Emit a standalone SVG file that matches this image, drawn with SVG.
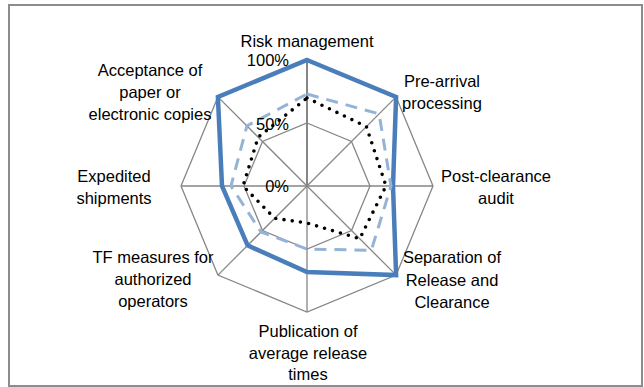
<svg xmlns="http://www.w3.org/2000/svg" width="644" height="387" viewBox="0 0 644 387">
  <style>
    .frame { fill: #ffffff; stroke: #8c8c8c; stroke-width: 2; }
    .grid { fill: none; stroke: #868686; stroke-width: 1.3; stroke-linejoin: miter; }
    .vaxis { stroke: #868686; stroke-width: 2; }
    .s1 { fill: none; stroke: #4a7ebb; stroke-width: 4.5; stroke-linejoin: miter; }
    .s2 { fill: none; stroke: #95b3d7; stroke-width: 3; stroke-dasharray: 12 8; stroke-linejoin: round; }
    .s3 { fill: none; stroke: #000000; stroke-width: 3.6; stroke-dasharray: 0 8.3; stroke-linecap: round; stroke-linejoin: round; }
    text { font-family: "Liberation Sans", Arial, sans-serif; font-size: 16.5px; fill: #000000; }
    .lbl { text-anchor: middle; }
    .tick { text-anchor: end; }
  </style>
  <rect class="frame" x="9" y="5" width="633" height="381"/>

  <g id="grid">
    <polygon class="grid" points="307,60 396.1,96.9 433,186 396.1,275.1 307,312 217.9,275.1 181,186 217.9,96.9"/>
    <polygon class="grid" points="307,123 351.5,141.5 370,186 351.5,230.5 307,249 262.5,230.5 244,186 262.5,141.5"/>
    <line class="grid" x1="307" y1="186" x2="396.1" y2="96.9"/>
    <line class="grid" x1="181" y1="186" x2="433" y2="186"/>
    <line class="grid" x1="307" y1="186" x2="396.1" y2="275.1"/>
    <line class="grid" x1="307" y1="186" x2="307" y2="312"/>
    <line class="grid" x1="307" y1="186" x2="217.9" y2="275.1"/>
    <line class="grid" x1="307" y1="186" x2="217.9" y2="96.9"/>
    <line class="vaxis" x1="307" y1="60" x2="307" y2="186"/>
  </g>

  <g id="connectors">
    <polygon id="series-solid" class="s1" points="307,60 396.1,96.9 393,186 396.1,275.1 307,272 247.6,245.4 222,186 217.9,96.9"/>
    <polygon id="series-dashed" class="s2" points="307,94 379.1,113.9 391,186 371.3,250.3 307,249 261,232 231,186 246.9,125.9"/>
    <polygon id="series-dotted" class="s3" points="307,98 366.4,126.6 386,186 359.7,238.7 307,223 274.7,218.3 243,186 258.2,137.2"/>
  </g>

  <g id="scale">
    <text class="tick" x="289" y="66">100%</text>
    <text class="tick" x="289" y="130">50%</text>
    <text class="tick" x="289" y="192">0%</text>
  </g>

  <g id="risk-management">
    <text class="lbl" x="307" y="47">Risk management</text>
  </g>
  <g id="pre-arrival">
    <text class="lbl" x="442" y="87">Pre-arrival</text>
    <text class="lbl" x="442" y="109">processing</text>
  </g>
  <g id="post-clearance">
    <text class="lbl" x="496" y="182">Post-clearance</text>
    <text class="lbl" x="496" y="204">audit</text>
  </g>
  <g id="separation">
    <text class="lbl" x="452" y="263">Separation of</text>
    <text class="lbl" x="452" y="285.5">Release and</text>
    <text class="lbl" x="452" y="308">Clearance</text>
  </g>
  <g id="publication">
    <text class="lbl" x="308" y="337">Publication of</text>
    <text class="lbl" x="308" y="358.5">average release</text>
    <text class="lbl" x="308" y="380">times</text>
  </g>
  <g id="tf-measures">
    <text class="lbl" x="153" y="263">TF measures for</text>
    <text class="lbl" x="153" y="285">authorized</text>
    <text class="lbl" x="153" y="307">operators</text>
  </g>
  <g id="expedited">
    <text class="lbl" x="114" y="182">Expedited</text>
    <text class="lbl" x="114" y="203.5">shipments</text>
  </g>
  <g id="acceptance">
    <text class="lbl" x="150" y="76">Acceptance of</text>
    <text class="lbl" x="150" y="98">paper or</text>
    <text class="lbl" x="150" y="120">electronic copies</text>
  </g>
</svg>
